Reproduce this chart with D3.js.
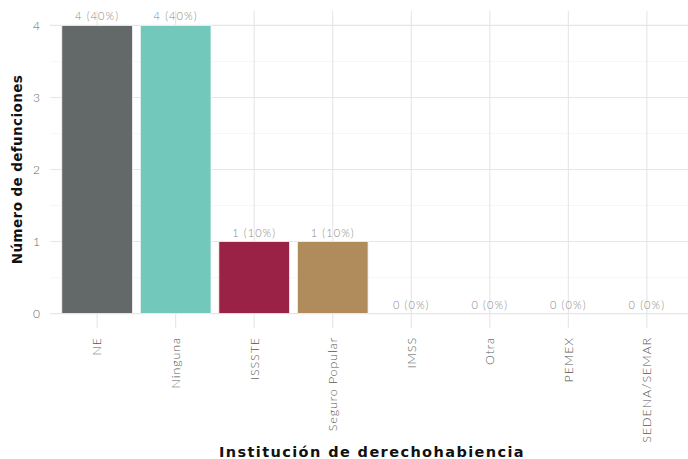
<!DOCTYPE html>
<html>
<head>
<meta charset="utf-8">
<script src="https://cdn.jsdelivr.net/npm/d3@7"></script>
<style>
  body { margin: 0; background: #fff; }
  svg { display: block; }
</style>
</head>
<body>
<svg id="chart" width="688" height="459"></svg>
<script>
const categories = ['NE', 'Ninguna', 'ISSSTE', 'Seguro Popular', 'IMSS', 'Otra', 'PEMEX', 'SEDENA/SEMAR'];
const values = [4, 4, 1, 1, 0, 0, 0, 0];
const percents = ['40%', '40%', '10%', '10%', '0%', '0%', '0%', '0%'];
const colors = ['#636968', '#72c9bb', '#9b2247', '#b08c5d', '#999', '#999', '#999', '#999'];
const yTicks = [0, 1, 2, 3, 4];

const svg = d3.select('#chart');
const margin = {left: 50, right: -6, top: 11, bottom: 131};
const width = +svg.attr('width') - margin.left - margin.right;
const height = +svg.attr('height') - margin.top - margin.bottom;

const g = svg.append('g').attr('transform', `translate(${margin.left},${margin.top})`);

// ggplot-like discrete expansion of 0.6 units on each side
const step = width / (categories.length + 0.2);
const xScale = d3.scalePoint()
  .domain(categories)
  .range([0.6 * step, width - 0.6 * step]);

const yScale = d3.scaleLinear()
  .domain([-0.2, 4.2])
  .range([height, 0]);

// grid
g.selectAll('line.minor')
  .data([0.5, 1.5, 2.5, 3.5])
  .enter().append('line')
  .attr('x1', 0).attr('x2', width)
  .attr('y1', d => yScale(d)).attr('y2', d => yScale(d))
  .attr('stroke', '#f0f0f0').attr('stroke-width', 0.6);

g.selectAll('line.major')
  .data(yTicks)
  .enter().append('line')
  .attr('x1', 0).attr('x2', width)
  .attr('y1', d => yScale(d)).attr('y2', d => yScale(d))
  .attr('stroke', '#e6e6e6').attr('stroke-width', 1.1);

g.selectAll('line.vgrid')
  .data(categories)
  .enter().append('line')
  .attr('x1', d => xScale(d)).attr('x2', d => xScale(d))
  .attr('y1', 0).attr('y2', height)
  .attr('stroke', '#e6e6e6').attr('stroke-width', 1.1);

// bars
const barW = step * 0.9;
g.selectAll('rect.bar')
  .data(values)
  .enter().append('rect')
  .attr('class', 'bar')
  .attr('x', (d, i) => xScale(categories[i]) - barW / 2)
  .attr('width', barW)
  .attr('y', d => yScale(d))
  .attr('height', d => yScale(0) - yScale(d))
  .attr('fill', (d, i) => colors[i])
  .attr('stroke', '#f4f4f4')
  .attr('stroke-width', d => d > 0 ? 0.8 : 0);

// value labels
g.selectAll('text.lab')
  .data(values)
  .enter().append('text')
  .attr('x', (d, i) => xScale(categories[i]))
  .attr('y', d => yScale(d) - 5)
  .attr('text-anchor', 'middle')
  .attr('font-family', 'Lato, "Open Sans", sans-serif')
  .attr('font-weight', 300)
  .attr('font-size', 11)
  .attr('letter-spacing', 1.1)
  .attr('fill', '#8a8a8a')
  .text((d, i) => `${d} (${percents[i]})`);

// y tick labels
g.selectAll('text.ytick')
  .data(yTicks)
  .enter().append('text')
  .attr('x', -10)
  .attr('y', d => yScale(d))
  .attr('dy', '0.35em')
  .attr('text-anchor', 'end')
  .attr('font-family', 'Lato, "Open Sans", sans-serif')
  .attr('font-weight', 300)
  .attr('font-size', 12)
  .attr('fill', '#666')
  .text(d => d);

// x tick labels, rotated
g.selectAll('text.xtick')
  .data(categories)
  .enter().append('text')
  .attr('transform', d => `translate(${xScale(d)},${height + 9}) rotate(-90)`)
  .attr('dy', '0.35em')
  .attr('text-anchor', 'end')
  .attr('font-family', 'Lato, "Open Sans", sans-serif')
  .attr('font-weight', 300)
  .attr('font-size', 12.5)
  .attr('letter-spacing', 0.9)
  .attr('fill', '#555')
  .text(d => d);

// axis titles
svg.append('text')
  .attr('x', margin.left + width / 2)
  .attr('y', 457)
  .attr('text-anchor', 'middle')
  .attr('font-family', '"DejaVu Sans", sans-serif')
  .attr('font-weight', 'bold')
  .attr('font-size', 14.5)
  .attr('letter-spacing', 1.4)
  .attr('fill', '#111')
  .text('Institución de derechohabiencia');

svg.append('text')
  .attr('transform', `translate(22,${margin.top + height / 2}) rotate(-90)`)
  .attr('text-anchor', 'middle')
  .attr('font-family', '"DejaVu Sans", sans-serif')
  .attr('font-weight', 'bold')
  .attr('font-size', 13.5)
  .attr('letter-spacing', 0.4)
  .attr('fill', '#111')
  .text('Número de defunciones');
</script>
</body>
</html>
